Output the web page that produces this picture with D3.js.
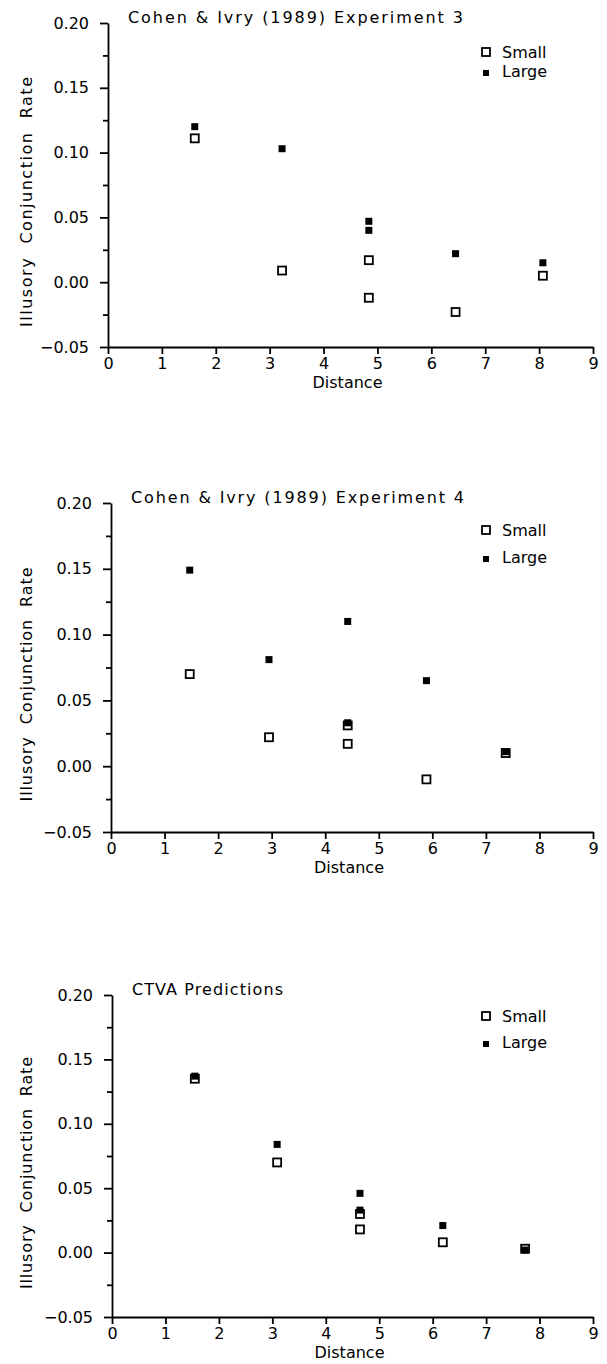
<!DOCTYPE html>
<html>
<head>
<meta charset="utf-8">
<script src="https://cdn.jsdelivr.net/npm/d3@7"></script>
<style>
  html, body { margin: 0; padding: 0; background: #fff; }
  svg { display: block; }
  text { font-family: "DejaVu Sans", sans-serif; fill: #000; }
</style>
</head>
<body>
<svg id="chart" width="607" height="1364"></svg>
<script>
// ---------------- data ----------------
const panelTitles = ["Cohen & Ivry (1989) Experiment 3", "Cohen & Ivry (1989) Experiment 4", "CTVA Predictions"];
const seriesNames = ["Small", "Large"];
const xTickValues = [0, 1, 2, 3, 4, 5, 6, 7, 8, 9];
const yTickValues = [-0.05, 0.00, 0.05, 0.10, 0.15, 0.20];
const yMinorTickValues = [-0.025, 0.025, 0.075, 0.125, 0.175];
const xLabel = "Distance";
const yLabel = "Illusory  Conjunction  Rate";

// [distance, rate]
const exp3Small = [[1.61, 0.111], [3.23, 0.009], [4.84, 0.017], [4.84, -0.012], [6.45, -0.023], [8.07, 0.005]];
const exp3Large = [[1.61, 0.120], [3.23, 0.103], [4.84, 0.047], [4.84, 0.040], [6.45, 0.022], [8.07, 0.015]];
const exp4Small = [[1.47, 0.070], [2.95, 0.022], [4.42, 0.031], [4.42, 0.017], [5.89, -0.010], [7.37, 0.010]];
const exp4Large = [[1.47, 0.149], [2.95, 0.081], [4.42, 0.110], [4.42, 0.033], [5.89, 0.065], [7.37, 0.011]];
const ctvaSmall = [[1.55, 0.135], [3.09, 0.070], [4.64, 0.030], [4.64, 0.018], [6.19, 0.008], [7.73, 0.003]];
const ctvaLarge = [[1.55, 0.137], [3.09, 0.084], [4.64, 0.046], [4.64, 0.033], [6.19, 0.021], [7.73, 0.002]];

// ---------------- layout ----------------
const layouts = [
  { left: 108, right: 593, top: 23,  bottom: 347,  titleLen: 335, yLabLen: 250, legSmall: 35, legLarge: 54 },
  { left: 111, right: 593, top: 503, bottom: 832,  titleLen: 333, yLabLen: 234, legSmall: 33, legLarge: 60 },
  { left: 112, right: 593, top: 995, bottom: 1317, titleLen: 151, yLabLen: 232, legSmall: 27, legLarge: 53 }
];
const panelData = [
  [exp3Small, exp3Large],
  [exp4Small, exp4Large],
  [ctvaSmall, ctvaLarge]
];

const svg = d3.select("#chart");
const FONT = 16;

layouts.forEach((L, i) => {
  const g = svg.append("g");
  const x = d3.scaleLinear().domain([0, 9]).range([L.left, L.right]);
  const y = d3.scaleLinear().domain([-0.05, 0.20]).range([L.bottom, L.top]);

  // x axis
  const xa = g.append("g")
    .attr("transform", `translate(0,${L.bottom})`)
    .call(d3.axisBottom(x).tickValues(xTickValues).tickSize(7).tickSizeOuter(0).tickPadding(4).tickFormat(d3.format("d")));
  // y axis
  const ya = g.append("g")
    .attr("transform", `translate(${L.left},0)`)
    .call(d3.axisLeft(y).tickValues(yTickValues).tickSize(8).tickSizeOuter(0).tickPadding(11).tickFormat(d3.format(".2f")));
  // minor y ticks
  const ym = g.append("g")
    .attr("transform", `translate(${L.left},0)`)
    .call(d3.axisLeft(y).tickValues(yMinorTickValues).tickSize(5).tickSizeOuter(0).tickFormat(""));
  ym.select(".domain").remove();

  [xa, ya, ym].forEach(a => {
    a.attr("font-family", "DejaVu Sans, sans-serif").attr("font-size", FONT);
    a.selectAll("path, line").attr("stroke", "#000").attr("stroke-width", 1.8);
    a.selectAll("text").attr("fill", "#000");
  });

  // axis labels
  g.append("text")
    .attr("x", (L.left + L.right) / 2 - 3)
    .attr("y", L.bottom + 41)
    .attr("text-anchor", "middle")
    .attr("font-size", FONT)
    .text(xLabel);
  const cy = (L.top + L.bottom) / 2 + 17;
  g.append("text")
    .attr("transform", `translate(32,${cy}) rotate(-90)`)
    .attr("text-anchor", "middle")
    .attr("font-size", FONT)
    .attr("textLength", L.yLabLen)
    .attr("lengthAdjust", "spacing")
    .style("white-space", "pre")
    .text(yLabel);

  // title
  g.append("text")
    .attr("x", L.left + 20)
    .attr("y", L.top)
    .attr("font-size", FONT)
    .attr("textLength", L.titleLen)
    .attr("lengthAdjust", "spacing")
    .text(panelTitles[i]);

  // points: small (open) first, then large (filled)
  const [small, large] = panelData[i];
  const so = 8, lf = 7;
  g.append("g").selectAll("rect").data(small).join("rect")
    .attr("x", d => x(d[0]) - so / 2)
    .attr("y", d => y(d[1]) - so / 2)
    .attr("width", so).attr("height", so)
    .attr("fill", "#fff").attr("stroke", "#000").attr("stroke-width", 1.8);
  g.append("g").selectAll("rect").data(large).join("rect")
    .attr("x", d => x(d[0]) - lf / 2)
    .attr("y", d => y(d[1]) - lf / 2)
    .attr("width", lf).attr("height", lf)
    .attr("fill", "#000");

  // legend
  const lx = 486;
  g.append("rect")
    .attr("x", lx - so / 2).attr("y", L.top + L.legSmall - 10)
    .attr("width", so).attr("height", so)
    .attr("fill", "#fff").attr("stroke", "#000").attr("stroke-width", 1.8);
  g.append("text").attr("x", 502).attr("y", L.top + L.legSmall).attr("font-size", FONT).text(seriesNames[0]);
  g.append("rect")
    .attr("x", lx - 3).attr("y", L.top + L.legLarge - 7)
    .attr("width", 6).attr("height", 6)
    .attr("fill", "#000");
  g.append("text").attr("x", 502).attr("y", L.top + L.legLarge).attr("font-size", FONT).text(seriesNames[1]);
});
</script>
</body>
</html>
